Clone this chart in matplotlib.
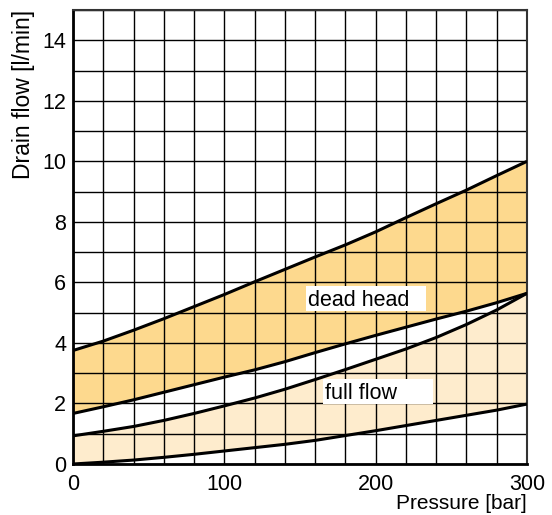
import matplotlib
matplotlib.use("Agg")
import matplotlib.pyplot as plt
from matplotlib.patches import Rectangle
import numpy as np

plt.rcParams['font.family'] = ['Liberation Sans', 'DejaVu Sans']

pressure = [0, 20, 40, 60, 80, 100, 120, 140, 160, 180, 200, 220, 240, 260, 280, 300]
dead_head_upper = [3.75, 4.06, 4.42, 4.8, 5.2, 5.6, 6.02, 6.43, 6.84, 7.24, 7.67, 8.14, 8.6, 9.05, 9.53, 10.0]
dead_head_lower = [1.67, 1.89, 2.12, 2.37, 2.62, 2.87, 3.11, 3.38, 3.68, 3.97, 4.25, 4.52, 4.79, 5.05, 5.33, 5.64]
full_flow_upper = [0.93, 1.08, 1.24, 1.44, 1.67, 1.92, 2.18, 2.47, 2.79, 3.12, 3.46, 3.8, 4.18, 4.61, 5.09, 5.64]
full_flow_lower = [0.0, 0.06, 0.13, 0.22, 0.32, 0.43, 0.54, 0.65, 0.78, 0.94, 1.1, 1.27, 1.44, 1.61, 1.78, 1.98]

x_ticks = [0, 100, 200, 300]
y_ticks = [0, 2, 4, 6, 8, 10, 12, 14]
x_label = "Pressure [bar]"
y_label = "Drain flow [l/min]"
region_labels = ["dead head", "full flow"]

W, H = 552, 515
fig = plt.figure(figsize=(W/100, H/100), dpi=100)
ax_l, ax_r, ax_t, ax_b = 73, 527, 10, 464
ax = fig.add_axes([ax_l/W, 1-ax_b/H, (ax_r-ax_l)/W, (ax_b-ax_t)/H])

ax.fill_between(pressure, dead_head_lower, dead_head_upper, color='#FDD98E', lw=0, zorder=1)
ax.fill_between(pressure, full_flow_lower, full_flow_upper, color='#FEECCD', lw=0, zorder=1)

for s in [dead_head_upper, dead_head_lower, full_flow_upper, full_flow_lower]:
    ax.plot(pressure, s, color='black', lw=2.2, zorder=3, solid_capstyle='butt')

ax.set_xlim(0, 300)
ax.set_ylim(0, 15)
xt = np.arange(0, 301, 20)
yt = np.arange(0, 15.1, 1)
ax.set_xticks(xt)
ax.set_yticks(yt)
ax.grid(True, color='black', lw=1.0, zorder=2)
ax.set_axisbelow('line')
ax.set_xticklabels([str(int(v)) if v in x_ticks else '' for v in xt])
ax.set_yticklabels([str(int(v)) if v in y_ticks else '' for v in yt])
ax.tick_params(length=0, labelsize=15.5)
ax.tick_params(axis='x', pad=7)
ax.tick_params(axis='y', pad=5)

for sp in ['left', 'bottom']:
    ax.spines[sp].set_linewidth(2)
    ax.spines[sp].set_color('black')
for sp in ['top', 'right']:
    ax.spines[sp].set_linewidth(1.5)
    ax.spines[sp].set_color('#333333')

ax.set_xlabel(x_label, fontsize=15, loc='right', va='bottom')
ax.xaxis.set_label_coords(1.0, (ax_b-513)/(ax_b-ax_t))
fig.text(24/W, 1-10/H, y_label, fontsize=16.5, rotation=90, ha='center', va='top')

# white label boxes
ax.add_patch(Rectangle((154, 5.06), 79, 0.82, facecolor='white', edgecolor='none', zorder=4))
ax.add_patch(Rectangle((165.2, 1.98), 72.5, 0.83, facecolor='white', edgecolor='none', zorder=4))
ax.text(155.2, 5.22, region_labels[0], fontsize=15.5, va='baseline', ha='left', zorder=5)
ax.text(166.5, 2.15, region_labels[1], fontsize=15.5, va='baseline', ha='left', zorder=5)

fig.savefig('out.png', dpi=100)
